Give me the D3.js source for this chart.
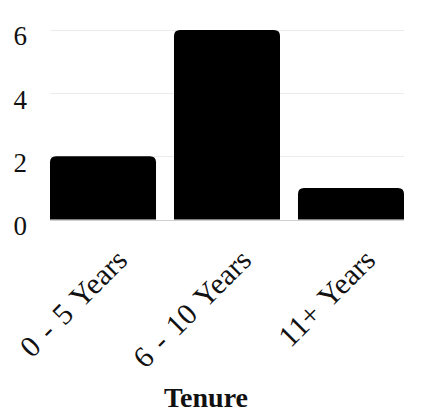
<!DOCTYPE html>
<html><head><meta charset="utf-8">
<script src="https://cdn.jsdelivr.net/npm/d3@7"></script>
<style>html,body{margin:0;padding:0;background:#fff;}</style>
</head><body><svg id="c" width="435" height="412"></svg>
<script>
const categories = ["0 - 5 Years", "6 - 10 Years", "11+ Years"];
const values = [2, 6, 1];
const yTicks = [0, 2, 4, 6];
const xTitle = "Tenure";

const svg = d3.select("#c");
const font = "'Liberation Serif','Times New Roman',serif";
const x = d3.scaleBand().domain(categories).range([41, 413]).paddingInner(0.145).paddingOuter(0.0726);
const y = d3.scaleLinear().domain([0, 6]).range([219.5, 30]);

const gx0 = x(categories[0]), gx1 = x(categories[categories.length-1]) + x.bandwidth();
svg.append("g").selectAll("line").data(yTicks).join("line")
  .attr("x1", gx0).attr("x2", gx1)
  .attr("y1", d => Math.round(y(d)) + 0.5).attr("y2", d => Math.round(y(d)) + 0.5)
  .attr("stroke", d => d === 0 ? "#d0d0d0" : "#ececec").attr("stroke-width", 1);

svg.append("g").selectAll("text").data(yTicks).join("text")
  .attr("x", 27).attr("y", d => y(d) + 6).attr("dy", "0.35em")
  .attr("text-anchor", "end").attr("font-family", font).attr("font-size", 27)
  .attr("fill", "#111").text(d => d);

const r = 6;
svg.append("g").selectAll("path").data(values).join("path")
  .attr("fill", "#000")
  .attr("d", (d, i) => {
    const x0 = x(categories[i]), w = x.bandwidth(), y0 = y(0), y1 = y(d);
    return `M${x0},${y0}V${y1 + r}Q${x0},${y1} ${x0 + r},${y1}H${x0 + w - r}Q${x0 + w},${y1} ${x0 + w},${y1 + r}V${y0}Z`;
  });

svg.append("g").selectAll("text").data(categories).join("text")
  .attr("transform", d => `translate(${x(d) + x.bandwidth() / 2 + 26},262) rotate(-45)`)
  .attr("text-anchor", "end").attr("font-family", font).attr("font-size", 30)
  .attr("word-spacing", 3)
  .attr("fill", "#111").text(d => d);

svg.append("text").attr("x", 206).attr("y", 407).attr("text-anchor", "middle")
  .attr("font-family", font).attr("font-size", 28).attr("font-weight", "bold")
  .attr("fill", "#111").text(xTitle);
</script></body></html>
